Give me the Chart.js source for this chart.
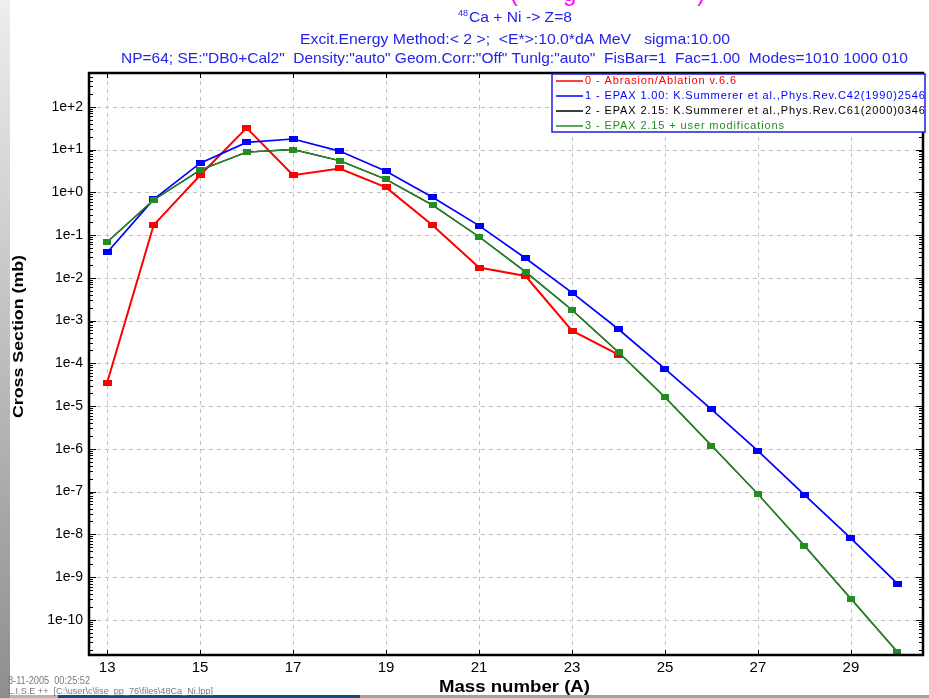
<!DOCTYPE html>
<html>
<head>
<meta charset="utf-8">
<script src="https://cdn.jsdelivr.net/npm/chart.js@4.4.1/dist/chart.umd.min.js"></script>
<style>
    html, body { margin: 0; padding: 0; background: #fff; }
    canvas { display: block; }
</style>
</head>
<body>
<canvas id="chart" width="929" height="698"></canvas>
<script>
// mass numbers (A) of the Z=8 fragments
const masses = [13, 14, 15, 16, 17, 18, 19, 20, 21, 22, 23, 24, 25, 26, 27, 28, 29, 30];

// cross sections in mb
const abrasionAblation = [3.5e-5, 0.17, 2.5, 32, 2.5, 3.6, 1.3, 0.17, 0.0173, 0.011, 5.8e-4, 1.6e-4];
const epax100 = [0.039, 0.68, 4.8, 14.7, 17.6, 9.2, 3.1, 0.76, 0.166, 0.0286, 0.0045, 6.25e-4,
    7.4e-5, 8.3e-6, 8.9e-7, 8.4e-8, 8.0e-9, 7.0e-10];
const epax215 = [0.069, 0.66, 3.3, 8.7, 10, 5.5, 2.0, 0.50, 0.091, 0.0137, 0.00177, 1.8e-4,
    1.6e-5, 1.19e-6, 8.7e-8, 5.4e-9, 3.1e-10, 1.76e-11];
const epax215User = [0.069, 0.66, 3.3, 8.7, 10, 5.5, 2.0, 0.50, 0.091, 0.0137, 0.00177, 1.8e-4,
    1.6e-5, 1.19e-6, 8.7e-8, 5.4e-9, 3.1e-10, 1.76e-11];

const seriesLabels = [
    '0 - Abrasion/Ablation v.6.6',
    '1 - EPAX 1.00: K.Summerer et al.,Phys.Rev.C42(1990)2546',
    '2 - EPAX 2.15: K.Summerer et al.,Phys.Rev.C61(2000)0346',
    '3 - EPAX 2.15 + user modifications'
];

const xTickLabels = [13, 15, 17, 19, 21, 23, 25, 27, 29];
const yTickExponents = [-10, -9, -8, -7, -6, -5, -4, -3, -2, -1, 0, 1, 2];

const headerLines = [
    'Ca + Ni -> Z=8',
    'Excit.Energy Method:< 2 >;  <E*>:10.0*dA MeV   sigma:10.00',
    'NP=64; SE:"DB0+Cal2"  Density:"auto" Geom.Corr:"Off" Tunlg:"auto"  FisBar=1  Fac=1.00  Modes=1010 1000 010'
];

const RED = '#ff0000';
const BLUE = '#0000ff';
const BLACK = '#000000';
const GREEN = '#238c23';
const FONT = '"Liberation Sans", Arial, sans-serif';

const marker = (color, w, h) => {
    const c = document.createElement('canvas');
    c.width = w;
    c.height = h;
    const g = c.getContext('2d');
    g.fillStyle = color;
    g.fillRect(0, 0, w, h);
    return c;
};

const toPoints = (values) => values.map((v, i) => ({ x: masses[i], y: v }));

// draw text squeezed/stretched horizontally to span x0..x1
const fitText = (ctx, text, x0, x1, y) => {
    const w = ctx.measureText(text).width;
    ctx.save();
    ctx.translate(x0, y);
    ctx.scale((x1 - x0) / w, 1);
    ctx.textAlign = 'left';
    ctx.fillText(text, 0, 0);
    ctx.restore();
};

const decorations = {
    id: 'decorations',
    beforeDraw(chart) {
        const ctx = chart.ctx;
        ctx.save();
        ctx.fillStyle = '#ffffff';
        ctx.fillRect(0, 0, chart.width, chart.height);

        // window edge on the left and the strip at the bottom
        const grad = ctx.createLinearGradient(0, 0, 0, chart.height);
        grad.addColorStop(0, '#eeeeee');
        grad.addColorStop(1, '#8e8e8e');
        ctx.fillStyle = grad;
        ctx.fillRect(0, 0, 10, chart.height);
        ctx.fillStyle = '#b4b4b4';
        ctx.fillRect(10, 695, 48, 3);
        ctx.fillStyle = '#0b4a8c';
        ctx.fillRect(58, 695, 302, 3);
        ctx.fillStyle = '#a2a2a2';
        ctx.fillRect(360, 695, chart.width - 360, 3);

        // cut-off magenta title above
        ctx.fillStyle = '#ff00ff';
        ctx.font = '24px ' + FONT;
        ctx.textBaseline = 'alphabetic';
        ctx.fillText('(', 510, 1);
        ctx.fillText('g', 563, 1);
        ctx.fillText(')', 697, 1);

        // header
        ctx.fillStyle = 'rgb(35, 35, 235)';
        ctx.font = '9px ' + FONT;
        ctx.fillText('48', 458, 16);
        ctx.font = '14px ' + FONT;
        fitText(ctx, headerLines[0], 469, 572, 22);
        ctx.font = '15px ' + FONT;
        fitText(ctx, headerLines[1], 300, 730, 44);
        fitText(ctx, headerLines[2], 121, 908, 63);

        // stamp bottom left
        ctx.fillStyle = '#7a7a7a';
        ctx.font = '10px ' + FONT;
        fitText(ctx, '8-11-2005  00:25:52', 8, 90, 684);
        ctx.font = '9px ' + FONT;
        fitText(ctx, 'L.I.S.E ++  [C:\\user\\c\\lise_pp_76\\files\\48Ca_Ni.lpp]', 8, 213, 694);

        // axis titles
        ctx.fillStyle = '#000000';
        ctx.font = 'bold 15px ' + FONT;
        ctx.save();
        ctx.translate(23, 418);
        ctx.rotate(-Math.PI / 2);
        fitText(ctx, 'Cross Section (mb)', 0, 163, 0);
        ctx.restore();
        ctx.font = 'bold 16px ' + FONT;
        fitText(ctx, 'Mass number (A)', 439, 590, 692);
        ctx.restore();
    },
    beforeDatasetsDraw(chart) {
        // dashed grid at the labelled ticks
        const ctx = chart.ctx;
        const { left, right, top, bottom } = chart.chartArea;
        const x = chart.scales.x;
        const y = chart.scales.y;
        ctx.save();
        ctx.strokeStyle = '#c2c2c2';
        ctx.lineWidth = 1;
        ctx.setLineDash([4, 4]);
        ctx.beginPath();
        x.ticks.forEach(t => {
            const px = Math.round(x.getPixelForValue(t.value)) + 0.5;
            ctx.moveTo(px, top);
            ctx.lineTo(px, bottom);
        });
        y.ticks.forEach(t => {
            const py = Math.round(y.getPixelForValue(t.value)) + 0.5;
            ctx.moveTo(left, py);
            ctx.lineTo(right, py);
        });
        ctx.stroke();
        ctx.restore();
    },
    afterDatasetsDraw(chart) {
        const ctx = chart.ctx;
        const { left, right, top, bottom } = chart.chartArea;
        const y = chart.scales.y;
        const x = chart.scales.x;
        ctx.save();
        ctx.strokeStyle = '#000000';
        ctx.lineWidth = 1;

        // log minor ticks on both vertical sides
        ctx.beginPath();
        for (let e = -11; e <= 2; e++) {
            for (let k = 1; k <= 9; k++) {
                const v = k * Math.pow(10, e);
                if (v < y.min || v > y.max) continue;
                const py = Math.round(y.getPixelForValue(v)) + 0.5;
                const len = k === 1 ? 7 : 4;
                ctx.moveTo(left, py);
                ctx.lineTo(left + len, py);
                ctx.moveTo(right, py);
                ctx.lineTo(right - len, py);
            }
        }
        xTickLabels.forEach(m => {
            const px = Math.round(x.getPixelForValue(m)) + 0.5;
            ctx.moveTo(px, bottom);
            ctx.lineTo(px, bottom - 5);
            ctx.moveTo(px, top);
            ctx.lineTo(px, top + 5);
        });
        ctx.stroke();

        // frame
        ctx.lineWidth = 2.5;
        ctx.strokeRect(left, top, right - left, bottom - top);

        // legend box
        const lx = 552, ly = 74, lw = 373, lh = 58;
        ctx.fillStyle = '#ffffff';
        ctx.fillRect(lx, ly, lw, lh);
        ctx.lineWidth = 1.5;
        ctx.strokeStyle = 'rgb(30, 30, 230)';
        ctx.strokeRect(lx, ly, lw, lh);
        ctx.beginPath();
        ctx.rect(lx + 1, ly + 1, lw - 2, lh - 2);
        ctx.clip();
        ctx.font = '11px ' + FONT;
        ctx.textBaseline = 'middle';
        const refW = ctx.measureText(seriesLabels[3]).width;
        ctx.letterSpacing = ((200 - refW) / seriesLabels[3].length).toFixed(2) + 'px';
        chart.data.datasets.forEach((ds, i) => {
            const cy = 81 + i * 15;
            ctx.strokeStyle = ds.borderColor;
            ctx.lineWidth = 1.5;
            ctx.beginPath();
            ctx.moveTo(556, cy);
            ctx.lineTo(583, cy);
            ctx.stroke();
            ctx.fillStyle = ds.borderColor;
            ctx.fillText(ds.label, 585, cy);
        });
        ctx.restore();
    }
};

const yLabel = (v) => {
    const e = Math.round(Math.log10(v));
    return '1e' + (e >= 0 ? '+' : '-') + Math.abs(e);
};

// axis grid is drawn by the plugin (dashed); keep chart's own grid invisible
const hiddenGrid = { display: true, drawOnChartArea: false, drawTicks: false, color: 'rgba(0,0,0,0)' };

new Chart(document.getElementById('chart'), {
    type: 'line',
    data: {
        datasets: [
            {
                label: seriesLabels[0],
                data: toPoints(abrasionAblation),
                borderColor: RED,
                borderWidth: 2,
                pointStyle: marker(RED, 9, 6),
                order: 4
            },
            {
                label: seriesLabels[1],
                data: toPoints(epax100),
                borderColor: BLUE,
                borderWidth: 1.7,
                pointStyle: marker(BLUE, 9, 6),
                order: 3
            },
            {
                label: seriesLabels[2],
                data: toPoints(epax215),
                borderColor: BLACK,
                borderWidth: 1.4,
                pointStyle: marker(BLACK, 8, 6),
                order: 2
            },
            {
                label: seriesLabels[3],
                data: toPoints(epax215User),
                borderColor: GREEN,
                borderWidth: 1.4,
                pointStyle: marker(GREEN, 8, 6),
                order: 1
            }
        ]
    },
    options: {
        responsive: false,
        animation: false,
        devicePixelRatio: 1,
        layout: {
            padding: { top: 73, right: 4, left: 0, bottom: 0 }
        },
        elements: {
            line: { tension: 0, fill: false },
            point: { radius: 4 }
        },
        scales: {
            x: {
                type: 'linear',
                min: 12.61,
                max: 30.55,
                afterBuildTicks: (scale) => {
                    scale.ticks = xTickLabels.map(v => ({ value: v }));
                },
                afterFit: (scale) => { scale.height = 43; },
                grid: hiddenGrid,
                border: { display: false },
                ticks: {
                    autoSkip: false,
                    maxRotation: 0,
                    padding: 4,
                    color: '#000000',
                    font: { family: FONT, size: 15 }
                }
            },
            y: {
                type: 'logarithmic',
                min: 1.5e-11,
                max: 616,
                afterBuildTicks: (scale) => {
                    scale.ticks = yTickExponents.map(e => ({ value: Math.pow(10, e) }));
                },
                afterFit: (scale) => { scale.width = 89; },
                grid: hiddenGrid,
                border: { display: false },
                ticks: {
                    padding: 6,
                    color: '#000000',
                    font: { family: FONT, size: 14 },
                    callback: (v) => yLabel(v)
                }
            }
        },
        plugins: {
            legend: { display: false },
            tooltip: { enabled: false }
        }
    },
    plugins: [decorations]
});
</script>
</body>
</html>
